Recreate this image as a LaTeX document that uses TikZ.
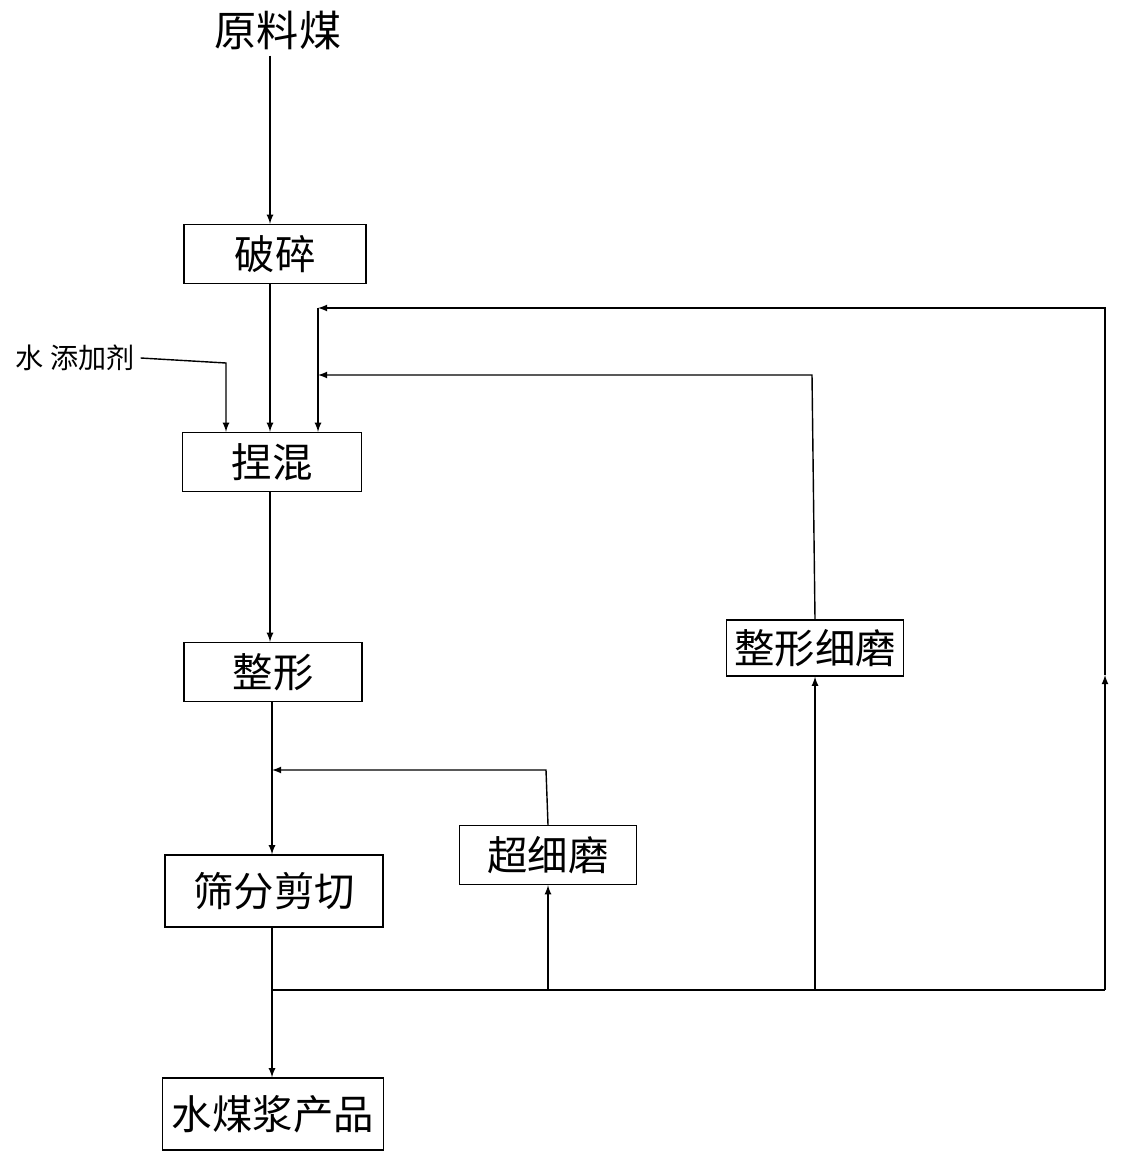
\documentclass[tikz,border=0pt]{standalone}
\usepackage{fontspec}
\newfontfamily\cjk{Noto Sans CJK SC}
\usetikzlibrary{positioning,arrows}
\tikzset{
  stage/.style={
      draw,
      thick,
      minimum height=1.18cm,
      inner sep=0pt,
      font=\cjk\fontsize{23}{26}\selectfont,
  },
  flow/.style={
      thick,
      -latex,
  },
  line/.style={
      thick,
  },
}
\begin{document}
\begin{tikzpicture}[x=0.02cm,y=-0.02cm]
  \useasboundingbox (0,0) rectangle (1124,1155);
  \node[font=\cjk\fontsize{24}{28}\selectfont](raw) at (278,30) {原料煤};
  \node[stage,minimum width=3.64cm](crush) at (275,254) {破碎};
  \node[stage,minimum width=3.58cm](knead) at (272,462) {捏混};
  \node[stage,minimum width=3.56cm](shape) at (273,672) {整形};
  \node[stage,minimum width=4.36cm,minimum height=1.44cm](screen) at (274,891) {筛分剪切};
  \node[stage,minimum width=3.54cm](ultra) at (548,855) {超细磨};
  \node[stage,minimum width=3.54cm,minimum height=1.12cm](fine) at (815,648) {整形细磨};
  \node[stage,minimum width=4.42cm,minimum height=1.44cm](product) at (273,1114) {水煤浆产品};
  \node[font=\cjk\fontsize{16}{20}\selectfont](water) at (75,358) {水 添加剂};

  % main line
  \draw[flow] (raw.south -| 270,0) -- (crush.north -| 270,0);
  \draw[flow] (crush.south -| 270,0) -- (knead.north -| 270,0);
  \draw[flow] (knead.south -| 270,0) -- (shape.north -| 270,0);
  \draw[flow] (shape.south -| 272,0) -- (screen.north -| 272,0);
  \coordinate (split) at (272,990);
  \coordinate (far) at (1105,990);
  \draw[line] (screen.south -| split) -- (split) -- (far);
  \draw[flow] (split) -- (product.north -| split);

  % additives
  \draw[flow] (water.east) -- (226,363) -- (knead.north -| 226,0);

  % recycle loops
  \draw[flow] (548,990) -- (ultra.south -| 548,0);
  \draw[flow] (ultra.north) -- (546,770) -- (272,770);
  \draw[flow] (815,990) -- (fine.south -| 815,0);
  \draw[flow] (fine.north) -- (812,375) -- (318,375);
  \draw[flow] (far) -- (1105,675);
  \draw[line] (1105,675) -- (1105,308) -- (330,308);
  \draw[flow] (340,308) -- (318,308);
  \draw[flow] (318,308) -- (knead.north -| 318,0);
\end{tikzpicture}
\end{document}
